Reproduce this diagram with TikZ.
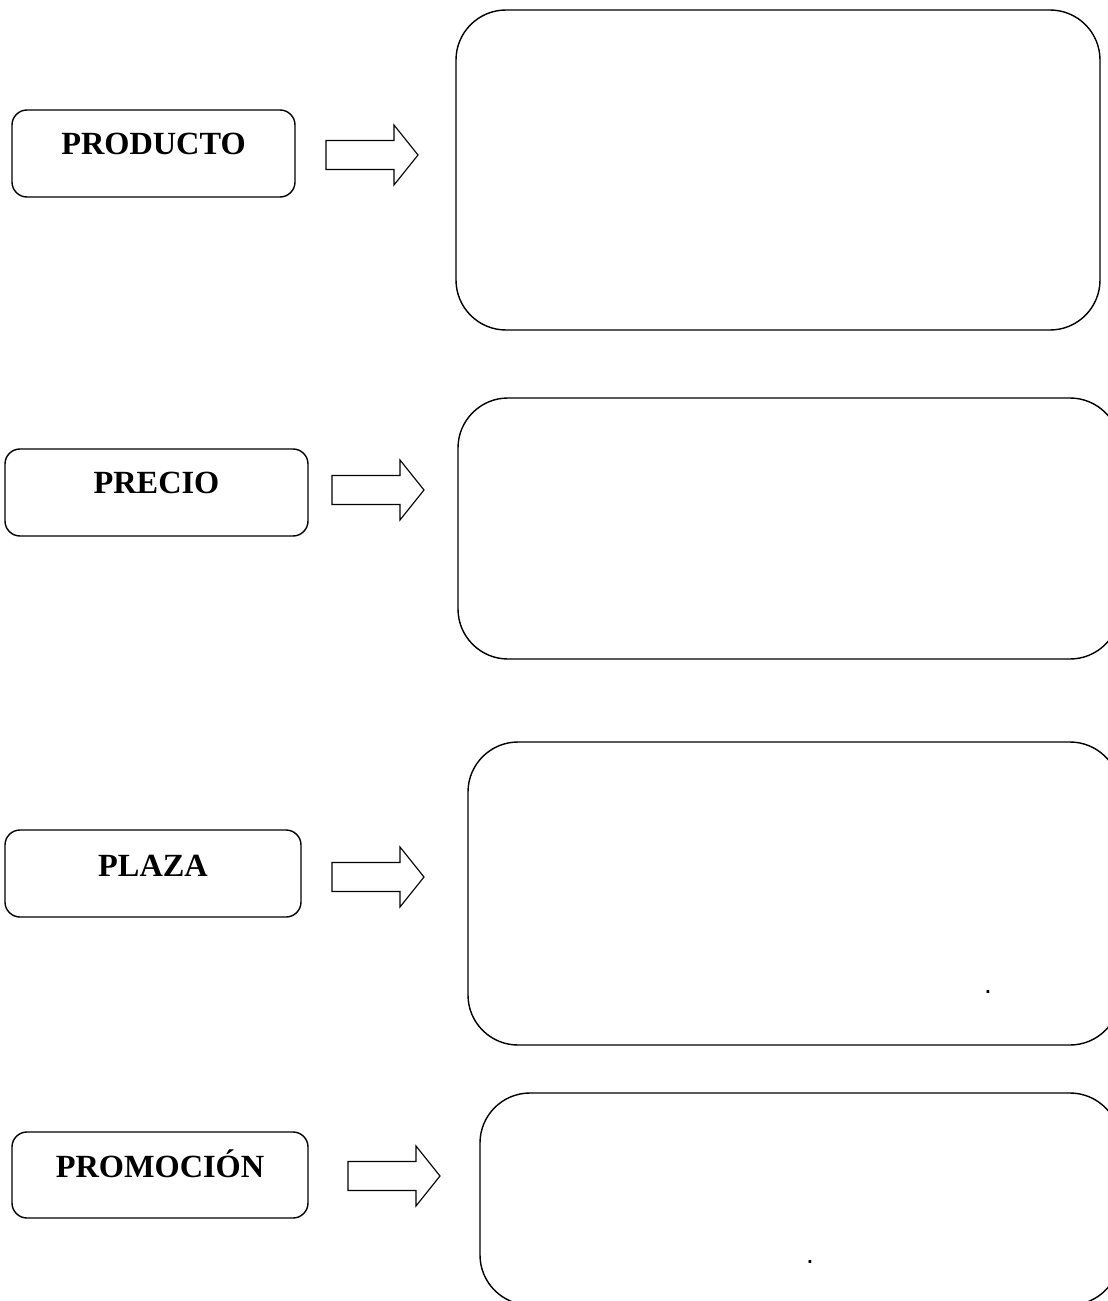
\documentclass[tikz,border=0pt]{standalone}
\usepackage{fontspec}
\setmainfont{Liberation Serif}
\newfontfamily\dotfont{Liberation Sans}
\usepackage{tikz}

% one pixel of the reference
\def\px{0.025cm}

\tikzset{
  itembox/.style={draw, line width=1pt, rounded corners=15*\px, inner sep=0pt},
  itemtext/.style={font=\fontsize{23}{27}\selectfont\bfseries, inner sep=0pt},
  bigbox/.style={draw, line width=1pt, rounded corners=50*\px},
  blockarrow/.style={draw, line width=0.8pt, fill=white},
  dotmark/.style={font=\dotfont\fontsize{20}{24}\selectfont, inner sep=0pt, anchor=base}
}

% block arrow: left end x, middle y
\newcommand{\blockarw}[2]{%
  \draw[blockarrow] (#1,#2-14.5) -- ++(68,0) -- ++(0,-15.5) -- (#1+92,#2)
    -- (#1+68,#2+30) -- ++(0,-15.5) -- (#1,#2+14.5) -- cycle;}

\begin{document}
\begin{tikzpicture}[x=\px, y=-\px]
  \useasboundingbox (0,0) rectangle (1108,1301);
  \clip (0,0) rectangle (1108,1301);

  % left boxes
  \node[itembox, minimum width=283*\px, minimum height=87*\px] (producto) at (153.5,153.5) {};
  \node[itembox, minimum width=303*\px, minimum height=87*\px] (precio) at (156.5,492.5) {};
  \node[itembox, minimum width=296*\px, minimum height=87*\px] (plaza) at (153,873.5) {};
  \node[itembox, minimum width=296*\px, minimum height=86*\px] (promocion) at (160,1175) {};

  % labels
  \node[itemtext] (productotxt) at (153.5,144) {PRODUCTO};
  \node[itemtext] (preciotxt) at (156.5,483) {PRECIO};
  \node[itemtext] (plazatxt) at (153,866) {PLAZA};
  \node[itemtext, anchor=base] (promociontxt) at (160,1177) {PROMOCIÓN};

  % arrows
  \blockarw{326}{155}
  \blockarw{332}{490}
  \blockarw{332}{877}
  \blockarw{348}{1176}

  % right boxes
  \draw[bigbox] (456,10) rectangle (1100,330);
  \draw[bigbox] (458,398) rectangle (1120,659);
  \draw[bigbox] (468,742) rectangle (1120,1045);
  \draw[bigbox] (480,1093) rectangle (1120,1305);

  % dots
  \node[dotmark] (dota) at (988,993) {.};
  \node[dotmark] (dotb) at (810,1263) {.};
\end{tikzpicture}
\end{document}
